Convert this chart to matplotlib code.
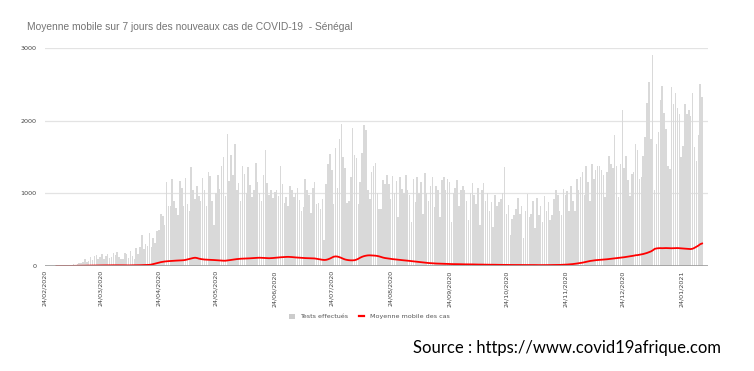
import matplotlib
matplotlib.use('Agg')
import matplotlib.pyplot as plt
import matplotlib.dates as mdates
from matplotlib.lines import Line2D
from matplotlib.patches import Patch
import pandas as pd

# Daily tests carried out (from 01/03/2020)
tests_mar = [0, 0, 0, 5, 10, 8, 12, 6, 20, 25, 15, 30, 40, 35, 60, 90, 50, 70, 130, 80,
             140, 150, 100, 120, 170, 90, 140, 160, 110, 130, 180]
tests_apr = [150, 190, 120, 100, 90, 180, 160, 110, 200, 140, 90, 250, 170, 260, 420,
             230, 300, 280, 450, 260, 380, 320, 480, 500, 710, 690, 560, 1160, 820, 830]
tests_may = [1200, 900, 800, 700, 1170, 1070, 830, 1210, 850, 760, 1360, 1050, 920, 1100,
             970, 890, 1210, 1040, 820, 1300, 1240, 890, 560, 1010, 1250, 1060, 1380,
             1500, 960, 1820, 1170]
tests_jun = [1530, 1250, 1680, 1040, 1140, 900, 1380, 1270, 1000, 1360, 1120, 950, 1050,
             1420, 1160, 1010, 900, 1250, 1600, 1140, 980, 1040, 930, 1020, 1050, 970,
             1380, 1130, 870, 950]
tests_jul = [820, 1100, 1040, 950, 1000, 1080, 910, 760, 810, 1200, 1050, 980, 730, 1080,
             1160, 850, 870, 780, 920, 356, 1130, 1400, 1540, 1320, 860, 1620, 1080, 1750,
             1950, 1500, 1350]
tests_aug = [870, 900, 1220, 1900, 1530, 1480, 860, 1150, 1560, 1940, 1870, 1050, 920,
             1290, 1370, 1420, 1000, 780, 790, 1180, 1130, 1250, 1130, 920, 1240, 1000,
             1170, 680, 1220, 1060, 1000]
tests_sep = [1250, 1050, 980, 600, 1200, 880, 1230, 1010, 1150, 720, 1280, 1000, 900,
             1100, 1230, 810, 1100, 1050, 680, 1180, 1230, 1050, 1200, 1150, 600, 1000,
             1080, 1180, 820, 1050]
tests_oct = [1100, 1050, 900, 640, 1010, 1140, 980, 850, 1070, 570, 1050, 1140, 900, 1000,
             760, 880, 540, 980, 830, 880, 920, 1000, 1360, 720, 840, 430, 650, 700, 780,
             940, 720]
tests_nov = [820, 380, 760, 990, 680, 720, 900, 520, 940, 700, 820, 600, 960, 760, 880,
             640, 700, 920, 1050, 980, 760, 700, 1060, 980, 1030, 760, 1100, 890, 760, 1200]
tests_dec = [1050, 1220, 1300, 980, 1380, 1150, 900, 1400, 1200, 1320, 1370, 1380, 1320,
             1250, 950, 1290, 1520, 1400, 1350, 1800, 1380, 950, 1400, 2150, 1350, 1520,
             1180, 970, 1260, 1300, 1680]
tests_jan = [1600, 1200, 1230, 1520, 1770, 2250, 2530, 1750, 2900, 1040, 1680, 1850, 2290,
             2480, 2100, 1880, 1380, 1330, 2460, 2230, 2380, 2180, 2090, 1500, 1650, 2230,
             2090, 2150, 2060, 2380, 1640]
tests_feb = [1450, 1800, 2500, 2330]

# 7-day moving average of new cases
ma_mar = [0, 0, 0, 0, 0, 1, 1, 1, 1, 2, 2, 3, 3, 3, 4, 4, 5, 5, 6, 6, 7, 7, 7, 8, 8, 8,
          9, 9, 9, 10, 10]
ma_apr = [10, 10, 9, 9, 9, 9, 8, 8, 9, 9, 10, 10, 11, 11, 12, 12, 13, 14, 16, 20, 26, 33,
          40, 47, 53, 58, 62, 65, 67, 69]
ma_may = [71, 73, 74, 75, 76, 78, 80, 84, 90, 97, 104, 110, 114, 110, 102, 96, 92, 89, 87,
          86, 85, 84, 82, 80, 78, 76, 74, 73, 73, 76, 80]
ma_jun = [84, 88, 92, 95, 98, 100, 101, 102, 103, 104, 106, 108, 110, 112, 113, 114, 113,
          112, 110, 108, 107, 108, 110, 112, 115, 118, 120, 122, 124, 125]
ma_jul = [126, 125, 123, 120, 118, 116, 114, 112, 110, 109, 108, 107, 106, 105, 104, 100,
          95, 90, 86, 83, 85, 92, 102, 115, 128, 132, 130, 122, 112, 100, 90]
ma_aug = [84, 80, 78, 78, 80, 88, 100, 115, 127, 136, 142, 146, 147, 146, 144, 142, 138,
          132, 124, 116, 110, 106, 102, 98, 95, 92, 88, 85, 82, 80, 78]
ma_sep = [76, 73, 70, 67, 64, 61, 59, 56, 53, 50, 47, 44, 41, 39, 37, 35, 34, 33, 32, 31,
          30, 29, 28, 27, 27, 26, 26, 25, 25, 24]
ma_oct = [24, 23, 23, 23, 22, 22, 21, 21, 20, 20, 19, 19, 18, 18, 18, 17, 17, 17, 16, 16,
          16, 15, 15, 15, 15, 14, 14, 14, 14, 14, 14]
ma_nov = [14, 14, 13, 13, 13, 13, 13, 13, 12, 12, 12, 12, 13, 13, 13, 13, 14, 14, 14, 15,
          15, 16, 17, 18, 20, 22, 24, 27, 30, 34]
ma_dec = [38, 42, 46, 52, 58, 64, 69, 73, 77, 80, 82, 84, 86, 88, 90, 93, 96, 100, 103,
          105, 107, 110, 113, 117, 121, 125, 128, 132, 137, 142, 148]
ma_jan = [150, 155, 160, 165, 172, 180, 190, 200, 215, 235, 242, 245, 246, 245, 246, 247,
          246, 245, 244, 245, 246, 247, 245, 243, 240, 238, 236, 234, 233, 238, 250]
ma_feb = [265, 280, 300, 310]

tests = (tests_mar + tests_apr + tests_may + tests_jun + tests_jul + tests_aug + tests_sep
         + tests_oct + tests_nov + tests_dec + tests_jan + tests_feb)
moving_avg = (ma_mar + ma_apr + ma_may + ma_jun + ma_jul + ma_aug + ma_sep + ma_oct
              + ma_nov + ma_dec + ma_jan + ma_feb)
dates = pd.date_range('2020-03-01', periods=len(tests), freq='D')

# ticks on the 24th of each month
tick_dates = pd.date_range('2020-02-01', '2021-01-01', freq='MS') + pd.Timedelta(days=23)

fig = plt.figure(figsize=(7.54, 3.71), dpi=100)
ax = fig.add_axes([0.0597, 0.283, 0.879, 0.5876])

ax.bar(dates, tests, width=0.8, color='#d9d9d9', zorder=2)
ax.plot(dates, moving_avg, color='#ff0000', linewidth=1.3, zorder=3)

ax.set_xlim(pd.Timestamp('2020-02-24'), pd.Timestamp('2021-02-07'))
ax.set_ylim(0, 3000)
ax.set_yticks([0, 1000, 2000, 3000])
ax.yaxis.grid(True, color='#e3e3e3', linewidth=0.9, zorder=0)
ax.axhline(0, color='#9e9e9e', linewidth=1.2, zorder=4)

ax.set_xticks(tick_dates)
ax.xaxis.set_major_formatter(mdates.DateFormatter('%d/%m/%Y'))
ax.tick_params(axis='x', labelsize=4.6, labelcolor='#444444', rotation=90, length=0, pad=3)
ax.tick_params(axis='y', labelsize=4.6, labelcolor='#444444', length=0, pad=6)
for s in ax.spines.values():
    s.set_visible(False)

fig.text(0.036, 0.927, "Moyenne mobile sur 7 jours des nouveaux cas de COVID-19  - Sénégal",
         fontsize=7.4, color='#757575', family='Liberation Sans', va='center')

handles = [Patch(facecolor='#cccccc', edgecolor='none'),
           Line2D([0], [0], color='#ff0000', linewidth=1.6)]
fig.legend(handles, ['Tests effectués', 'Moyenne mobile des cas'], loc='center',
           bbox_to_anchor=(0.49, 0.147), ncol=2, frameon=False, fontsize=4.6,
           handlelength=0.9, handleheight=0.9, columnspacing=1.6, handletextpad=0.8,
           labelcolor='#555555')

fig.text(0.548, 0.062, "Source : https://www.covid19afrique.com", fontsize=12.0,
         family='Lato', color='black', va='center')

fig.savefig('out.png', dpi=100)
